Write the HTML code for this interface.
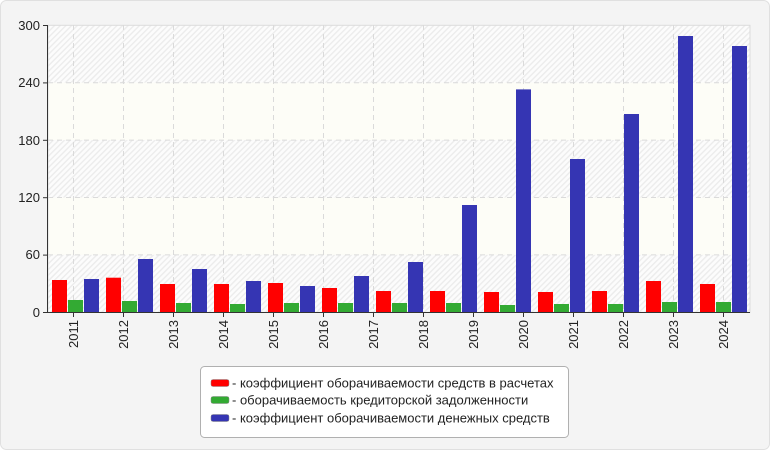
<!DOCTYPE html>
<html><head><meta charset="utf-8"><style>
html,body{margin:0;padding:0;background:#fff}
svg{display:block;font-family:"Liberation Sans",Arial,sans-serif}
</style></head><body>
<svg width="770" height="450" viewBox="0 0 770 450" xmlns="http://www.w3.org/2000/svg">
<defs>
<pattern id="h" width="4" height="4" patternUnits="userSpaceOnUse" patternTransform="rotate(45)">
<rect width="4" height="4" fill="#fcfcfc"/><rect width="1.4" height="4" fill="#ececec"/>
</pattern>
</defs>
<rect x="0.5" y="0.5" width="769" height="449" rx="6" fill="#f4f4f4" stroke="#e0e0e0"/>
<rect x="48" y="25.3" width="702" height="57.4" fill="url(#h)"/>
<rect x="48" y="82.7" width="702" height="57.4" fill="#fdfdf7"/>
<rect x="48" y="140.1" width="702" height="57.4" fill="url(#h)"/>
<rect x="48" y="197.5" width="702" height="57.4" fill="#fdfdf7"/>
<rect x="48" y="254.9" width="702" height="57.4" fill="url(#h)"/>
<rect x="48" y="25.3" width="702" height="287" fill="none" stroke="#dcdcdc"/>
<g stroke="#dadada" stroke-dasharray="5,4" stroke-width="1">
<line x1="48" x2="750" y1="82.7" y2="82.7"/><line x1="48" x2="750" y1="140.1" y2="140.1"/>
<line x1="48" x2="750" y1="197.5" y2="197.5"/><line x1="48" x2="750" y1="254.9" y2="254.9"/>
<line x1="73.5" x2="73.5" y1="25" y2="312"/><line x1="123.5" x2="123.5" y1="25" y2="312"/>
<line x1="173.5" x2="173.5" y1="25" y2="312"/><line x1="223.5" x2="223.5" y1="25" y2="312"/>
<line x1="273.5" x2="273.5" y1="25" y2="312"/><line x1="323.5" x2="323.5" y1="25" y2="312"/>
<line x1="373.5" x2="373.5" y1="25" y2="312"/><line x1="423.5" x2="423.5" y1="25" y2="312"/>
<line x1="473.5" x2="473.5" y1="25" y2="312"/><line x1="523.5" x2="523.5" y1="25" y2="312"/>
<line x1="573.5" x2="573.5" y1="25" y2="312"/><line x1="623.5" x2="623.5" y1="25" y2="312"/>
<line x1="673.5" x2="673.5" y1="25" y2="312"/><line x1="723.5" x2="723.5" y1="25" y2="312"/>
</g>
<g fill="#ff0000">
<rect x="52" y="280" width="15" height="32.3"/>
<rect x="106" y="277.7" width="15" height="34.6"/>
<rect x="160" y="284" width="15" height="28.3"/>
<rect x="214" y="284" width="15" height="28.3"/>
<rect x="268" y="283" width="15" height="29.3"/>
<rect x="322" y="288" width="15" height="24.3"/>
<rect x="376" y="291" width="15" height="21.3"/>
<rect x="430" y="291" width="15" height="21.3"/>
<rect x="484" y="292" width="15" height="20.3"/>
<rect x="538" y="292" width="15" height="20.3"/>
<rect x="592" y="291" width="15" height="21.3"/>
<rect x="646" y="281" width="15" height="31.3"/>
<rect x="700" y="284" width="15" height="28.3"/>
</g>
<g fill="#33aa33">
<rect x="68" y="300" width="15" height="12.3"/>
<rect x="122" y="301" width="15" height="11.3"/>
<rect x="176" y="303" width="15" height="9.3"/>
<rect x="230" y="304" width="15" height="8.3"/>
<rect x="284" y="303" width="15" height="9.3"/>
<rect x="338" y="303" width="15" height="9.3"/>
<rect x="392" y="303" width="15" height="9.3"/>
<rect x="446" y="303" width="15" height="9.3"/>
<rect x="500" y="305" width="15" height="7.3"/>
<rect x="554" y="304" width="15" height="8.3"/>
<rect x="608" y="304" width="15" height="8.3"/>
<rect x="662" y="302" width="15" height="10.3"/>
<rect x="716" y="302" width="15" height="10.3"/>
</g>
<g fill="#3535b3">
<rect x="84" y="279" width="15" height="33.3"/>
<rect x="138" y="259" width="15" height="53.3"/>
<rect x="192" y="269" width="15" height="43.3"/>
<rect x="246" y="281" width="15" height="31.3"/>
<rect x="300" y="286" width="15" height="26.3"/>
<rect x="354" y="276" width="15" height="36.3"/>
<rect x="408" y="262" width="15" height="50.3"/>
<rect x="462" y="205" width="15" height="107.3"/>
<rect x="516" y="89.4" width="15" height="222.9"/>
<rect x="570" y="159" width="15" height="153.3"/>
<rect x="624" y="114" width="15" height="198.3"/>
<rect x="678" y="36" width="15" height="276.3"/>
<rect x="732" y="46" width="15" height="266.3"/>
</g>
<g stroke="#333" stroke-width="1">
<line x1="47.5" y1="25" x2="47.5" y2="312.5"/>
<line x1="43" y1="312.5" x2="750" y2="312.5"/>
<line x1="43" y1="25.5" x2="48" y2="25.5"/><line x1="43" y1="82.9" x2="48" y2="82.9"/>
<line x1="43" y1="140.3" x2="48" y2="140.3"/><line x1="43" y1="197.7" x2="48" y2="197.7"/>
<line x1="43" y1="255.1" x2="48" y2="255.1"/>
<line x1="73.5" x2="73.5" y1="312" y2="317"/><line x1="123.5" x2="123.5" y1="312" y2="317"/>
<line x1="173.5" x2="173.5" y1="312" y2="317"/><line x1="223.5" x2="223.5" y1="312" y2="317"/>
<line x1="273.5" x2="273.5" y1="312" y2="317"/><line x1="323.5" x2="323.5" y1="312" y2="317"/>
<line x1="373.5" x2="373.5" y1="312" y2="317"/><line x1="423.5" x2="423.5" y1="312" y2="317"/>
<line x1="473.5" x2="473.5" y1="312" y2="317"/><line x1="523.5" x2="523.5" y1="312" y2="317"/>
<line x1="573.5" x2="573.5" y1="312" y2="317"/><line x1="623.5" x2="623.5" y1="312" y2="317"/>
<line x1="673.5" x2="673.5" y1="312" y2="317"/><line x1="723.5" x2="723.5" y1="312" y2="317"/>
</g>
<g font-size="13" fill="#222" text-anchor="end">
<text x="40" y="30">300</text><text x="40" y="87">240</text><text x="40" y="145">180</text>
<text x="40" y="202">120</text><text x="40" y="259">60</text><text x="40" y="317">0</text>
</g>
<g font-size="13" fill="#222" text-anchor="end">
<text transform="translate(78,320) rotate(-90)">2011</text>
<text transform="translate(128,320) rotate(-90)">2012</text>
<text transform="translate(178,320) rotate(-90)">2013</text>
<text transform="translate(228,320) rotate(-90)">2014</text>
<text transform="translate(278,320) rotate(-90)">2015</text>
<text transform="translate(328,320) rotate(-90)">2016</text>
<text transform="translate(378,320) rotate(-90)">2017</text>
<text transform="translate(428,320) rotate(-90)">2018</text>
<text transform="translate(478,320) rotate(-90)">2019</text>
<text transform="translate(528,320) rotate(-90)">2020</text>
<text transform="translate(578,320) rotate(-90)">2021</text>
<text transform="translate(628,320) rotate(-90)">2022</text>
<text transform="translate(678,320) rotate(-90)">2023</text>
<text transform="translate(728,320) rotate(-90)">2024</text>
</g>
<rect x="200.5" y="366.5" width="368" height="71" rx="4" fill="#fff" stroke="#b0b0b0"/>
<rect x="211" y="379.5" width="18" height="7" rx="2" fill="#ff0000" stroke="#888" stroke-width="0.5"/>
<rect x="211" y="396.5" width="18" height="7" rx="2" fill="#33aa33" stroke="#888" stroke-width="0.5"/>
<rect x="211" y="414.5" width="18" height="7" rx="2" fill="#3535b3" stroke="#888" stroke-width="0.5"/>
<g font-size="13" fill="#222">
<text x="232" y="387.5">- коэффициент оборачиваемости средств в расчетах</text>
<text x="232" y="404.5">- оборачиваемость кредиторской задолженности</text>
<text x="232" y="422.5">- коэффициент оборачиваемости денежных средств</text>
</g>
</svg>
</body></html>
